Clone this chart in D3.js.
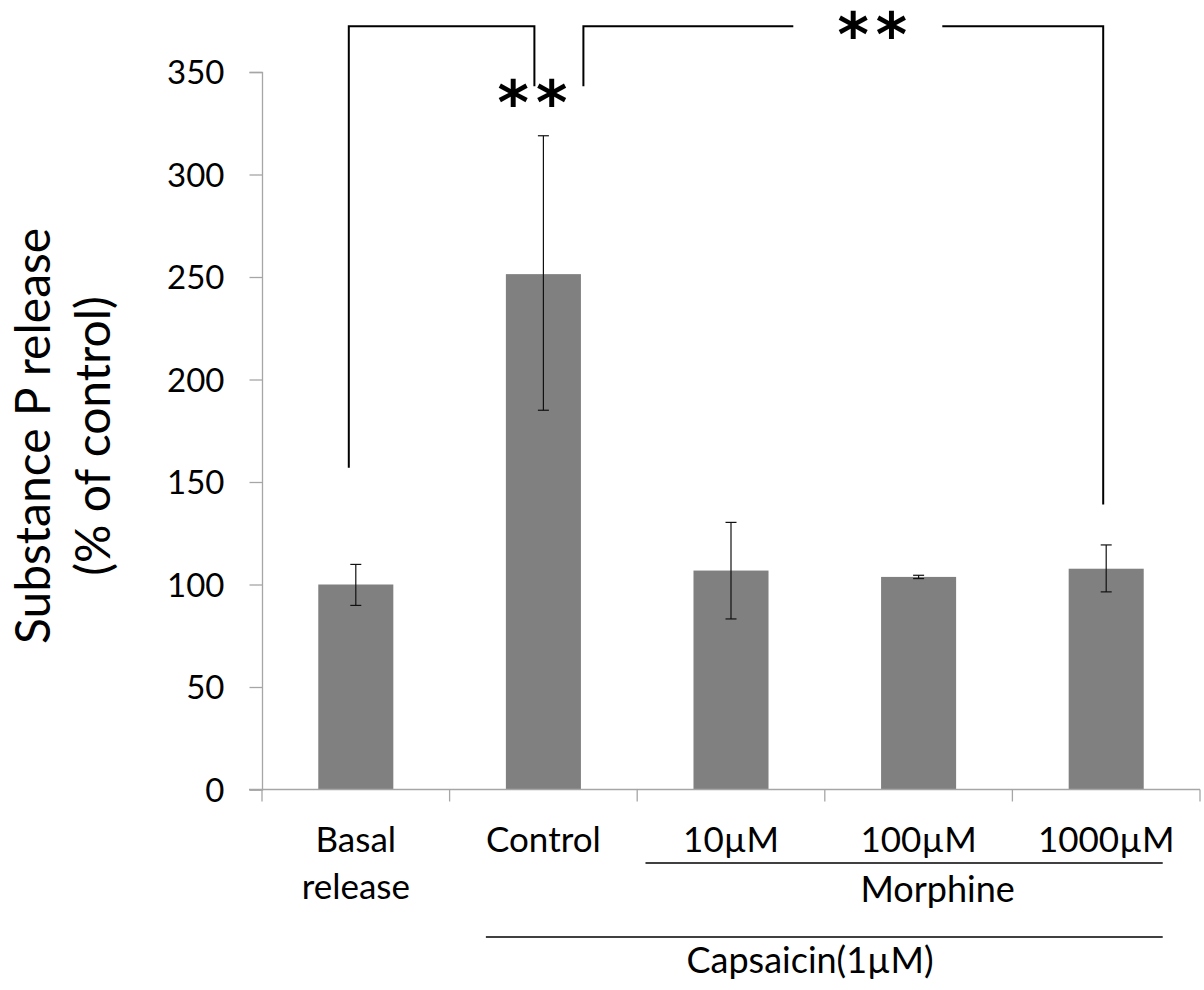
<!DOCTYPE html>
<html>
<head>
<meta charset="utf-8">
<script src="https://cdn.jsdelivr.net/npm/d3@7.9.0/dist/d3.min.js"></script>
<style>
  body { margin: 0; background: #fff; }
  svg text { font-family: Lato, "Open Sans", sans-serif; fill: #000; }
</style>
</head>
<body>
<svg id="chart" width="1204" height="990"></svg>
<script>
// --- data ---
const categories = ['Basal release', 'Control', '10µM', '100µM', '1000µM'];
const labelLines = [['Basal', 'release'], ['Control'], ['10µM'], ['100µM'], ['1000µM']];
const means = [100, 251.4, 106.8, 103.7, 107.7];
const errLow = [89.8, 185, 83.2, 102.9, 96.4];
const errHigh = [109.8, 318.9, 130.3, 104.5, 119.3];
const yTicks = [0, 50, 100, 150, 200, 250, 300, 350];

// significance brackets: [from, to] categories, leg bottoms (data units)
const brackets = [
  { from: 'Basal release', to: 'Control', legFrom: 157, legTo: 343, offFrom: -7, offTo: -9, stars: '**' },
  { from: 'Control', to: '1000µM', legFrom: 343, legTo: 139, offFrom: 40, offTo: -3, stars: '**' }
];
const bracketTop = 372.3;

const svg = d3.select('#chart');

// --- scales ---
const x = d3.scaleBand().domain(categories).range([262, 1200]).paddingInner(0.6).paddingOuter(0.3);
const y = d3.scaleLinear().domain([0, 350]).range([789.5, 72]);
const cx = (c) => x(c) + x.bandwidth() / 2;

// --- bars ---
svg.append('g').selectAll('rect')
  .data(categories)
  .join('rect')
  .attr('x', (d) => x(d))
  .attr('width', x.bandwidth())
  .attr('y', (d, i) => y(means[i]))
  .attr('height', (d, i) => y(0) - y(means[i]))
  .attr('fill', '#808080');

// --- y axis ---
const yAxis = svg.append('g')
  .attr('transform', 'translate(262,0)')
  .call(d3.axisLeft(y).tickValues(yTicks).tickSize(12.5).tickPadding(25));
yAxis.selectAll('path, line').attr('stroke', '#a6a6a6').attr('stroke-width', 1.3);
yAxis.selectAll('text').style('font-size', '33px').attr('dy', '0.36em');

// --- x axis: ticks on category boundaries ---
const boundaries = categories.map((c) => x(c) - x.step() * x.paddingInner() / 2);
boundaries[0] = 262;
boundaries.push(1200);
const xg = svg.append('g');
xg.append('line')
  .attr('x1', 249).attr('x2', 1200)
  .attr('y1', y(0)).attr('y2', y(0))
  .attr('stroke', '#a6a6a6').attr('stroke-width', 1.3);
xg.selectAll('.tk').data(boundaries).join('line')
  .attr('x1', (d) => d).attr('x2', (d) => d)
  .attr('y1', y(0)).attr('y2', y(0) + 12)
  .attr('stroke', '#a6a6a6').attr('stroke-width', 1.3);

// --- category labels ---
categories.forEach((c, i) => {
  labelLines[i].forEach((t, j) => {
    svg.append('text')
      .attr('x', cx(c))
      .attr('y', 852 + j * 47)
      .attr('text-anchor', 'middle')
      .style('font-size', '35px')
      .text(t);
  });
});

// --- error bars ---
const eg = svg.append('g').attr('stroke', '#111').attr('stroke-width', 1.2);
categories.forEach((c, i) => {
  eg.append('line').attr('x1', cx(c)).attr('x2', cx(c)).attr('y1', y(errLow[i])).attr('y2', y(errHigh[i]));
  [errLow[i], errHigh[i]].forEach((v) => {
    eg.append('line').attr('x1', cx(c) - 5.5).attr('x2', cx(c) + 5.5).attr('y1', y(v)).attr('y2', y(v));
  });
});

// --- group lines: Morphine & Capsaicin ---
const morphStart = x('10µM') - 48;
const groupEnd = x('1000µM') + x.bandwidth() + 19;
svg.append('line').attr('x1', morphStart).attr('x2', groupEnd).attr('y1', 863).attr('y2', 863)
  .attr('stroke', '#000').attr('stroke-width', 1.5);
svg.append('text').attr('x', cx('100µM') + 19).attr('y', 902).attr('text-anchor', 'middle')
  .style('font-size', '36px').text('Morphine');
const capStart = x('Control') - 20;
svg.append('line').attr('x1', capStart).attr('x2', groupEnd).attr('y1', 937).attr('y2', 937)
  .attr('stroke', '#000').attr('stroke-width', 1.5);
svg.append('text').attr('x', 810).attr('y', 973).attr('text-anchor', 'middle')
  .style('font-size', '36px').text('Capsaicin(1µM)');

// --- significance brackets ---
const bg = svg.append('g').attr('fill', 'none').attr('stroke', '#000').attr('stroke-width', 2);
const starStyle = (sel) => sel
  .attr('text-anchor', 'middle')
  .style('font-family', '"DejaVu Sans", sans-serif').style('font-weight', 'bold')
  .style('font-size', '60px').style('letter-spacing', '7px');
// first bracket: plain
const b0 = brackets[0];
const b0x1 = cx(b0.from) + b0.offFrom, b0x2 = cx(b0.to) + b0.offTo;
bg.append('path').attr('d', `M${b0x1},${y(b0.legFrom)}V${y(bracketTop)}H${b0x2}V${y(b0.legTo)}`);
svg.append('text').attr('x', b0x2 + 1.5).attr('y', 124).call(starStyle).text(b0.stars);
// second bracket: gap for stars
const b1 = brackets[1];
const b1x1 = cx(b1.from) + b1.offFrom, b1x2 = cx(b1.to) + b1.offTo;
const gapMid = (b1x1 + b1x2) / 2 + 25;
bg.append('path').attr('d', `M${b1x1},${y(b1.legFrom)}V${y(bracketTop)}H${gapMid - 75}`);
bg.append('path').attr('d', `M${gapMid + 74},${y(bracketTop)}H${b1x2}V${y(b1.legTo)}`);
svg.append('text').attr('x', gapMid + 7.5).attr('y', 56).call(starStyle).text(b1.stars);

// --- y axis title ---
const title = svg.append('text')
  .attr('transform', `translate(50,436) rotate(-90)`)
  .attr('text-anchor', 'middle')
  .style('font-size', '48px');
title.append('tspan').attr('x', 0).attr('y', 0).text('Substance P release');
title.append('tspan').attr('x', 0).attr('y', 60).text('(% of control)');
</script>
</body>
</html>
